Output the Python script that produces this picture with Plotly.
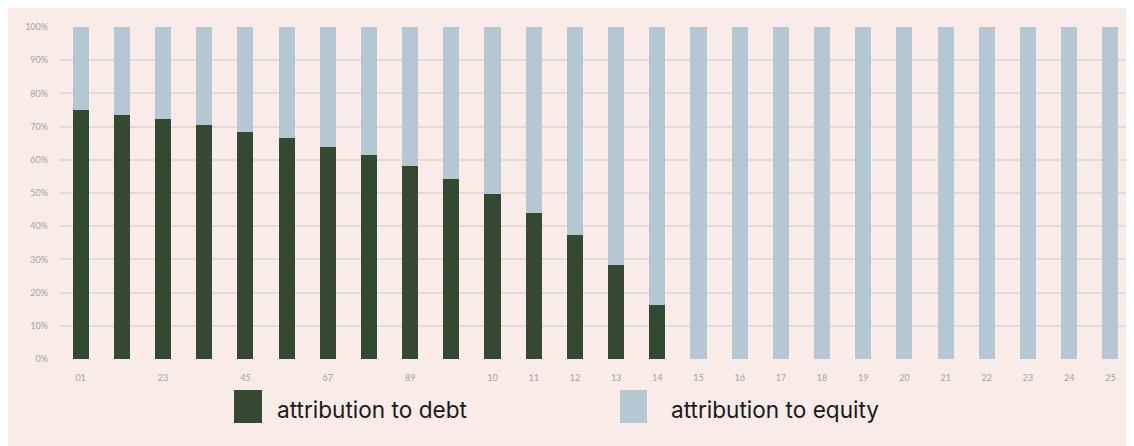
import plotly.graph_objects as go

categories = list(range(26))
tick_labels = ["01", "23", "45", "67", "89", "10", "11", "12", "13", "14", "15", "16", "17",
               "18", "19", "20", "21", "22", "23", "24", "25"]
tick_positions = [0, 2, 4, 6, 8] + list(range(10, 26))
debt = [75.0, 73.5, 72.2, 70.4, 68.4, 66.5, 63.9, 61.4, 58.1, 54.2, 49.7, 44.1, 37.4, 28.4, 16.3,
        0, 0, 0, 0, 0, 0, 0, 0, 0, 0, 0]
equity = [25.0, 26.5, 27.8, 29.6, 31.6, 33.5, 36.1, 38.6, 41.9, 45.8, 50.3, 55.9, 62.6, 71.6, 83.7,
          100, 100, 100, 100, 100, 100, 100, 100, 100, 100, 100]
series_names = ["attribution to debt", "attribution to equity"]

DEBT_C = "#344832"
EQ_C = "#b4c7d2"
BG = "#f9ebe8"

fig = go.Figure()
fig.add_trace(go.Bar(x=categories, y=debt, name=series_names[0], marker_color=DEBT_C,
                     marker_line_width=0))
fig.add_trace(go.Bar(x=categories, y=equity, name=series_names[1], marker_color=EQ_C,
                     marker_line_width=0))

OFF = 8  # page offset of the figure in the screenshot
W, H = 1126, 438
L, R, T, B = 52, 3, 19, 87
pw = W - L - R
ph = H - T - B

def px_x(x):
    return (x - OFF - L) / pw

def px_y(y):
    return (H - B - (y - OFF)) / ph

shapes = [
    dict(type="rect", xref="paper", yref="paper", x0=px_x(234), x1=px_x(262), y0=px_y(423), y1=px_y(390),
         fillcolor=DEBT_C, line_width=0),
    dict(type="rect", xref="paper", yref="paper", x0=px_x(620), x1=px_x(647), y0=px_y(423), y1=px_y(390),
         fillcolor=EQ_C, line_width=0),
]
annotations = [
    dict(text=series_names[0], xref="paper", yref="paper", x=px_x(275), y=px_y(409), xanchor="left",
         yanchor="middle", showarrow=False, font=dict(family="Inter", size=22.6, color="#1a1a1a")),
    dict(text=series_names[1], xref="paper", yref="paper", x=px_x(669), y=px_y(409), xanchor="left",
         yanchor="middle", showarrow=False, font=dict(family="Inter", size=22.6, color="#1a1a1a")),
]

fig.update_layout(
    barmode="stack",
    bargap=0.61,
    width=W, height=H,
    margin=dict(l=L, r=R, t=T, b=B),
    paper_bgcolor=BG,
    plot_bgcolor=BG,
    showlegend=False,
    shapes=shapes,
    annotations=annotations,
    xaxis=dict(range=[-0.5, 25.5], tickvals=tick_positions, ticktext=tick_labels, showgrid=False,
               zeroline=False, ticks="", tickfont=dict(family="Lato", size=9, color="#a3a3a3"),
               showline=False, ticklabelstandoff=12),
    yaxis=dict(range=[0, 100], tickvals=[0, 10, 20, 30, 40, 50, 60, 70, 80, 90, 100],
               ticktext=["0%", "10%", "20%", "30%", "40%", "50%", "60%", "70%", "80%", "90%", "100%"],
               showgrid=True, gridcolor="#dddcdc", gridwidth=1.5, zeroline=False, ticks="",
               tickfont=dict(family="Lato", size=9, color="#a3a3a3"), ticklabelstandoff=11),
)

fig.write_html("out.html")
